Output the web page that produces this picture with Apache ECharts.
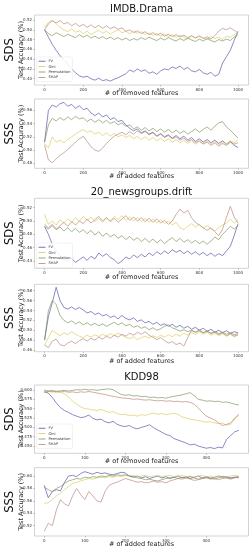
<!DOCTYPE html>
<html><head><meta charset="utf-8">
<script src="https://cdn.jsdelivr.net/npm/echarts@6/dist/echarts.min.js"></script>
<style>html,body{margin:0;padding:0;background:#fff}#c{width:251px;height:550px}</style>
</head><body><div id="c"></div>
<script>
const seriesNames = ['FV', 'Gini', 'Permutation', 'SHAP'];
const titles = ['IMDB.Drama', '20_newsgroups.drift', 'KDD98'];
const rowLabels = ['SDS', 'SSS', 'SDS', 'SSS', 'SDS', 'SSS'];
const xAxisNames = ['# of removed features', '# of added features'];
const yAxisName = 'Test Accuracy (%)';

const xLong = [0,20,40,60,80,100,120,140,160,180,200,220,240,260,280,300,320,340,360,380,400,420,440,460,480,500,520,540,560,580,600,620,640,660,680,700,720,740,760,780,800,820,840,860,880,900,920,940,960,980,1000];
const xKdd = [0,10,20,30,40,50,60,70,80,90,100,110,120,130,140,150,160,170,180,190,200,210,220,230,240,250,260,270,280,290,300,310,320,330,340,350,360,370,380,390,400,410,420,430,440,450,460,470,480];

const xTicksLong = [0,200,400,600,800,1000];
const xTicksKdd = [0,100,200,300,400];
const yTicks1 = [0.40,0.42,0.44,0.46,0.48,0.50,0.52];
const yTicks2 = [0.48,0.50,0.52,0.54,0.56];
const yTicks3 = [0.44,0.46,0.48,0.50,0.52];
const yTicks4 = [0.46,0.48,0.50,0.52,0.54,0.56,0.58];
const yTicks5 = [0.450,0.475,0.500,0.525,0.550,0.575,0.600];
const yTicks6 = [0.52,0.54,0.56,0.58,0.60];

// IMDB.Drama SDS
const imdbSdsFV = [0.500,0.485,0.470,0.458,0.447,0.438,0.430,0.420,0.412,0.406,0.403,0.405,0.400,0.397,0.401,0.396,0.398,0.395,0.399,0.402,0.406,0.410,0.418,0.414,0.420,0.415,0.418,0.411,0.414,0.409,0.416,0.420,0.418,0.424,0.421,0.426,0.419,0.423,0.416,0.414,0.419,0.412,0.409,0.413,0.405,0.409,0.432,0.445,0.458,0.478,0.497];
const imdbSdsGini = [0.505,0.515,0.520,0.512,0.505,0.500,0.496,0.502,0.495,0.498,0.492,0.497,0.490,0.495,0.499,0.493,0.497,0.491,0.496,0.500,0.494,0.497,0.492,0.498,0.493,0.496,0.490,0.494,0.488,0.492,0.487,0.491,0.486,0.490,0.484,0.489,0.485,0.481,0.487,0.483,0.488,0.484,0.480,0.486,0.482,0.485,0.480,0.487,0.484,0.490,0.495];
const imdbSdsPerm = [0.500,0.492,0.488,0.494,0.490,0.486,0.491,0.487,0.484,0.490,0.485,0.489,0.483,0.487,0.482,0.486,0.481,0.485,0.480,0.484,0.479,0.483,0.478,0.482,0.479,0.484,0.480,0.485,0.481,0.478,0.483,0.479,0.484,0.480,0.477,0.482,0.478,0.483,0.479,0.476,0.481,0.477,0.482,0.478,0.475,0.480,0.477,0.481,0.478,0.485,0.490];
const imdbSdsShap = [0.500,0.512,0.518,0.514,0.519,0.512,0.515,0.508,0.513,0.507,0.511,0.505,0.510,0.504,0.509,0.503,0.508,0.502,0.506,0.501,0.504,0.497,0.500,0.494,0.498,0.492,0.496,0.490,0.494,0.489,0.493,0.487,0.491,0.486,0.490,0.485,0.489,0.484,0.488,0.483,0.487,0.482,0.486,0.481,0.488,0.497,0.503,0.500,0.504,0.499,0.493];

// IMDB.Drama SSS
const imdbSssFV = [0.512,0.560,0.568,0.565,0.570,0.572,0.566,0.569,0.563,0.567,0.561,0.563,0.556,0.552,0.556,0.550,0.553,0.546,0.549,0.543,0.545,0.538,0.533,0.529,0.532,0.526,0.529,0.524,0.527,0.521,0.525,0.520,0.523,0.518,0.522,0.517,0.521,0.515,0.519,0.513,0.517,0.512,0.516,0.511,0.515,0.510,0.514,0.509,0.513,0.507,0.504];
const imdbSssGini = [0.510,0.503,0.520,0.512,0.515,0.511,0.516,0.520,0.524,0.528,0.531,0.527,0.529,0.524,0.527,0.522,0.526,0.521,0.525,0.520,0.523,0.519,0.522,0.517,0.521,0.516,0.520,0.515,0.519,0.514,0.518,0.513,0.517,0.512,0.516,0.511,0.515,0.510,0.514,0.509,0.513,0.510,0.514,0.509,0.513,0.508,0.512,0.509,0.514,0.511,0.516];
const imdbSssPerm = [0.512,0.538,0.548,0.544,0.549,0.545,0.550,0.546,0.551,0.547,0.549,0.543,0.547,0.542,0.546,0.541,0.545,0.540,0.543,0.538,0.541,0.536,0.538,0.532,0.535,0.530,0.534,0.529,0.533,0.528,0.532,0.527,0.531,0.526,0.530,0.525,0.529,0.524,0.528,0.532,0.527,0.531,0.535,0.530,0.536,0.541,0.543,0.535,0.530,0.524,0.518];
const imdbSssShap = [0.508,0.485,0.481,0.487,0.492,0.496,0.501,0.506,0.512,0.517,0.521,0.513,0.505,0.500,0.498,0.503,0.510,0.516,0.521,0.524,0.527,0.523,0.528,0.524,0.529,0.525,0.528,0.523,0.526,0.521,0.524,0.519,0.522,0.517,0.520,0.515,0.518,0.513,0.516,0.511,0.514,0.509,0.512,0.507,0.511,0.506,0.510,0.507,0.512,0.509,0.511];

// 20_newsgroups.drift SDS
const newsSdsFV = [0.492,0.480,0.465,0.455,0.448,0.443,0.440,0.444,0.438,0.442,0.446,0.441,0.447,0.443,0.452,0.447,0.451,0.445,0.442,0.436,0.440,0.446,0.443,0.449,0.445,0.450,0.446,0.452,0.448,0.454,0.450,0.455,0.451,0.457,0.453,0.456,0.451,0.455,0.450,0.454,0.449,0.453,0.448,0.452,0.447,0.451,0.448,0.455,0.462,0.478,0.496];
const newsSdsGini = [0.510,0.495,0.500,0.494,0.502,0.497,0.503,0.498,0.505,0.500,0.507,0.501,0.506,0.499,0.504,0.498,0.505,0.500,0.507,0.502,0.508,0.501,0.506,0.500,0.505,0.499,0.504,0.498,0.503,0.497,0.502,0.496,0.500,0.494,0.498,0.490,0.487,0.492,0.496,0.491,0.495,0.489,0.493,0.488,0.485,0.490,0.494,0.497,0.503,0.497,0.502];
const newsSdsPerm = [0.492,0.488,0.493,0.487,0.491,0.485,0.490,0.484,0.489,0.483,0.487,0.481,0.486,0.479,0.484,0.477,0.482,0.476,0.480,0.474,0.478,0.472,0.477,0.471,0.475,0.469,0.474,0.468,0.473,0.467,0.472,0.466,0.471,0.475,0.469,0.474,0.468,0.472,0.467,0.471,0.466,0.470,0.465,0.470,0.476,0.472,0.480,0.486,0.492,0.488,0.493];
const newsSdsShap = [0.495,0.490,0.495,0.488,0.493,0.498,0.492,0.499,0.494,0.500,0.496,0.503,0.497,0.502,0.507,0.500,0.505,0.499,0.504,0.498,0.503,0.508,0.501,0.506,0.500,0.505,0.499,0.504,0.498,0.503,0.497,0.501,0.495,0.500,0.510,0.518,0.512,0.516,0.505,0.498,0.494,0.490,0.486,0.490,0.484,0.478,0.488,0.505,0.522,0.506,0.497];

// 20_newsgroups.drift SSS
const newsSssFV = [0.480,0.528,0.556,0.587,0.560,0.546,0.543,0.547,0.542,0.546,0.541,0.535,0.538,0.532,0.535,0.529,0.532,0.526,0.529,0.523,0.530,0.524,0.521,0.525,0.518,0.521,0.515,0.518,0.512,0.516,0.510,0.513,0.508,0.512,0.506,0.510,0.504,0.508,0.502,0.506,0.500,0.504,0.498,0.502,0.496,0.500,0.495,0.499,0.494,0.497,0.495];
const newsSssGini = [0.470,0.485,0.500,0.494,0.489,0.495,0.491,0.497,0.492,0.488,0.485,0.490,0.486,0.491,0.487,0.492,0.488,0.493,0.489,0.494,0.490,0.486,0.483,0.487,0.481,0.485,0.488,0.484,0.489,0.485,0.490,0.486,0.491,0.487,0.492,0.488,0.494,0.490,0.496,0.491,0.497,0.492,0.496,0.490,0.494,0.489,0.493,0.488,0.492,0.487,0.490];
const newsSssPerm = [0.480,0.540,0.560,0.552,0.530,0.520,0.515,0.519,0.513,0.517,0.511,0.515,0.510,0.514,0.509,0.513,0.508,0.512,0.516,0.511,0.515,0.509,0.512,0.506,0.509,0.504,0.507,0.501,0.505,0.500,0.503,0.508,0.511,0.505,0.502,0.498,0.501,0.497,0.500,0.496,0.499,0.495,0.498,0.494,0.497,0.493,0.496,0.492,0.495,0.491,0.493];
const newsSssShap = [0.470,0.465,0.478,0.482,0.471,0.468,0.474,0.478,0.473,0.479,0.483,0.478,0.484,0.480,0.486,0.482,0.488,0.484,0.490,0.486,0.492,0.488,0.494,0.490,0.496,0.492,0.497,0.490,0.486,0.481,0.485,0.479,0.474,0.477,0.471,0.474,0.468,0.485,0.500,0.496,0.501,0.495,0.499,0.493,0.497,0.491,0.495,0.489,0.493,0.488,0.491];

// KDD98 SDS
const kddSdsFV = [0.595,0.592,0.580,0.565,0.553,0.545,0.540,0.534,0.530,0.526,0.528,0.533,0.524,0.520,0.522,0.515,0.512,0.516,0.508,0.504,0.502,0.505,0.499,0.496,0.500,0.503,0.507,0.499,0.493,0.487,0.481,0.478,0.470,0.466,0.462,0.458,0.453,0.455,0.450,0.447,0.444,0.446,0.443,0.447,0.445,0.468,0.478,0.488,0.492];
const kddSdsGini = [0.600,0.598,0.596,0.593,0.594,0.590,0.582,0.570,0.562,0.555,0.550,0.549,0.547,0.545,0.548,0.544,0.540,0.542,0.537,0.534,0.535,0.531,0.533,0.530,0.534,0.532,0.536,0.538,0.535,0.537,0.534,0.536,0.538,0.535,0.528,0.525,0.522,0.520,0.518,0.516,0.514,0.515,0.512,0.510,0.511,0.506,0.508,0.522,0.532];
const kddSdsPerm = [0.598,0.597,0.599,0.596,0.598,0.599,0.597,0.599,0.601,0.600,0.602,0.600,0.601,0.599,0.601,0.602,0.603,0.601,0.594,0.588,0.586,0.587,0.584,0.585,0.582,0.583,0.580,0.581,0.579,0.580,0.578,0.581,0.583,0.585,0.587,0.590,0.593,0.585,0.575,0.573,0.570,0.571,0.569,0.570,0.567,0.568,0.565,0.562,0.560];
const kddSdsShap = [0.594,0.596,0.595,0.597,0.595,0.596,0.594,0.595,0.593,0.595,0.594,0.596,0.594,0.592,0.590,0.588,0.585,0.583,0.581,0.579,0.578,0.577,0.575,0.576,0.574,0.573,0.574,0.572,0.571,0.572,0.570,0.571,0.569,0.570,0.568,0.569,0.567,0.562,0.552,0.540,0.530,0.525,0.520,0.512,0.505,0.508,0.512,0.525,0.535];

// KDD98 SSS
const kddSssFV = [0.585,0.565,0.575,0.578,0.576,0.590,0.600,0.601,0.599,0.604,0.607,0.605,0.603,0.606,0.604,0.605,0.603,0.602,0.604,0.606,0.605,0.600,0.598,0.600,0.597,0.599,0.596,0.598,0.600,0.597,0.599,0.596,0.598,0.600,0.597,0.599,0.596,0.598,0.600,0.597,0.599,0.596,0.598,0.600,0.598,0.599,0.597,0.598,0.599];
const kddSssGini = [0.556,0.557,0.562,0.568,0.572,0.578,0.583,0.588,0.590,0.592,0.594,0.596,0.595,0.597,0.598,0.597,0.599,0.598,0.600,0.599,0.601,0.600,0.601,0.599,0.600,0.601,0.599,0.600,0.601,0.599,0.600,0.601,0.599,0.600,0.601,0.599,0.600,0.598,0.600,0.601,0.599,0.600,0.598,0.599,0.600,0.598,0.600,0.601,0.600];
const kddSssPerm = [0.582,0.578,0.575,0.580,0.583,0.588,0.592,0.594,0.596,0.595,0.598,0.597,0.599,0.598,0.600,0.599,0.601,0.600,0.602,0.601,0.602,0.600,0.599,0.597,0.596,0.594,0.595,0.593,0.592,0.594,0.596,0.597,0.598,0.596,0.598,0.597,0.599,0.597,0.595,0.596,0.598,0.597,0.595,0.597,0.599,0.597,0.596,0.598,0.597];
const kddSssShap = [0.511,0.524,0.520,0.545,0.562,0.555,0.552,0.568,0.580,0.570,0.562,0.575,0.568,0.560,0.558,0.575,0.585,0.588,0.590,0.593,0.596,0.594,0.592,0.590,0.591,0.589,0.590,0.592,0.590,0.591,0.589,0.592,0.594,0.596,0.595,0.597,0.595,0.593,0.594,0.596,0.597,0.595,0.596,0.594,0.596,0.597,0.595,0.597,0.598];

const colors = ['#5452a6', '#d8cc5c', '#7b9458', '#b8857e'];

const panels = [
  { x: xLong, xTicks: xTicksLong, xMin: -52, xMax: 1054, yTicks: yTicks1, yMin: 0.3871, yMax: 0.5302, dec: 2, top: 15, h: 70, data: [imdbSdsFV, imdbSdsGini, imdbSdsPerm, imdbSdsShap], xName: 0, title: 0, titleY: 9, nameY: 93.5, legendTop: 57 },
  { x: xLong, xTicks: xTicksLong, xMin: -52, xMax: 1054, yTicks: yTicks2, yMin: 0.4725, yMax: 0.5771, dec: 2, top: 99, h: 69.3, data: [imdbSssFV, imdbSssGini, imdbSssPerm, imdbSssShap], xName: 1, nameY: 176 },
  { x: xLong, xTicks: xTicksLong, xMin: -52, xMax: 1054, yTicks: yTicks3, yMin: 0.429, yMax: 0.5341, dec: 2, top: 198.3, h: 70, data: [newsSdsFV, newsSdsGini, newsSdsPerm, newsSdsShap], xName: 0, title: 1, titleY: 192, nameY: 277.5, legendTop: 243 },
  { x: xLong, xTicks: xTicksLong, xMin: -52, xMax: 1054, yTicks: yTicks4, yMin: 0.4566, yMax: 0.593, dec: 2, top: 284.3, h: 67.4, data: [newsSssFV, newsSssGini, newsSssPerm, newsSssShap], xName: 1, nameY: 361 },
  { x: xKdd, xTicks: xTicksKdd, xMin: -24, xMax: 504, yTicks: yTicks5, yMin: 0.4305, yMax: 0.6134, dec: 3, top: 385, h: 68.3, data: [kddSdsFV, kddSdsGini, kddSdsPerm, kddSdsShap], xName: 0, title: 2, titleY: 377, nameY: 461.5, legendTop: 424 },
  { x: xKdd, xTicks: xTicksKdd, xMin: -24, xMax: 504, yTicks: yTicks6, yMin: 0.5034, yMax: 0.6134, dec: 2, top: 467.7, h: 68.3, data: [kddSssFV, kddSssGini, kddSssPerm, kddSssShap], xName: 1, nameY: 544 }
];

const FONT = 'DejaVu Sans';
const gridLeft = 34.5, gridWidth = 214;
const grids = [], xAxes = [], yAxes = [], series = [], graphics = [], legends = [];

panels.forEach((p, i) => {
  grids.push({ left: gridLeft, top: p.top, width: gridWidth, height: p.h, show: true, borderColor: '#c8c8c8', borderWidth: 0.8, backgroundColor: '#fff' });
  xAxes.push({
    type: 'value', gridIndex: i, min: p.xMin, max: p.xMax, position: 'bottom',
    axisLine: { show: false, onZero: false }, splitLine: { show: false },
    axisTick: { show: true, length: 1.5, lineStyle: { color: '#888', width: 0.5 }, customValues: p.xTicks },
    axisLabel: { fontSize: 4, color: '#333', margin: 2.5, fontFamily: FONT, customValues: p.xTicks, formatter: v => String(Math.round(v)) }
  });
  yAxes.push({
    type: 'value', gridIndex: i, min: p.yMin, max: p.yMax, position: 'left',
    axisLine: { show: false, onZero: false }, splitLine: { show: false },
    axisTick: { show: true, length: 1.5, lineStyle: { color: '#888', width: 0.5 }, customValues: p.yTicks },
    axisLabel: { fontSize: 4, color: '#333', margin: 2.5, fontFamily: FONT, customValues: p.yTicks, formatter: v => v.toFixed(p.dec) }
  });
  p.data.forEach((vals, k) => {
    series.push({
      name: seriesNames[k], type: 'line', xAxisIndex: i, yAxisIndex: i,
      data: p.x.map((xv, j) => [xv, vals[j]]),
      showSymbol: false, symbol: 'none', smooth: false,
      lineStyle: { width: 0.75, color: colors[k], opacity: 0.9 }, itemStyle: { color: colors[k] },
      z: 2 + k
    });
  });
  const cy = p.top + p.h / 2;
  graphics.push({ type: 'text', x: 10, y: cy, rotation: Math.PI / 2, style: { text: rowLabels[i], font: '11.5px "DejaVu Sans"', fill: '#111', textAlign: 'center', textVerticalAlign: 'middle' } });
  graphics.push({ type: 'text', x: 21.5, y: cy, rotation: Math.PI / 2, style: { text: yAxisName, font: '6.5px "DejaVu Sans"', fill: '#222', textAlign: 'center', textVerticalAlign: 'middle' } });
  graphics.push({ type: 'text', x: gridLeft + gridWidth / 2, y: p.nameY, style: { text: xAxisNames[p.xName], font: '6.5px "DejaVu Sans"', fill: '#222', textAlign: 'center', textVerticalAlign: 'middle' } });
  if (p.title !== undefined) {
    graphics.push({ type: 'text', x: gridLeft + gridWidth / 2, y: p.titleY, style: { text: titles[p.title], font: '10px "DejaVu Sans"', fill: '#111', textAlign: 'center', textVerticalAlign: 'middle' } });
  }
  if (p.legendTop !== undefined) {
    legends.push({
      data: seriesNames, left: 36.5, top: p.legendTop, orient: 'vertical',
      icon: 'rect', itemWidth: 7, itemHeight: 0.8, itemGap: 0,
      textStyle: { fontSize: 3.6, lineHeight: 5.4, color: '#333', fontFamily: FONT, padding: [0, 0, 0, -2] },
      backgroundColor: 'rgba(255,255,255,0.85)', borderColor: '#ddd', borderWidth: 0.4, borderRadius: 1.5, padding: [1.5, 2, 1.5, 2],
      selectedMode: false
    });
  }
});

const chart = echarts.init(document.getElementById('c'), null, { renderer: 'canvas' });
chart.setOption({
  animation: false,
  backgroundColor: '#fff',
  grid: grids, xAxis: xAxes, yAxis: yAxes, series: series,
  legend: legends, graphic: graphics
});
</script></body></html>
